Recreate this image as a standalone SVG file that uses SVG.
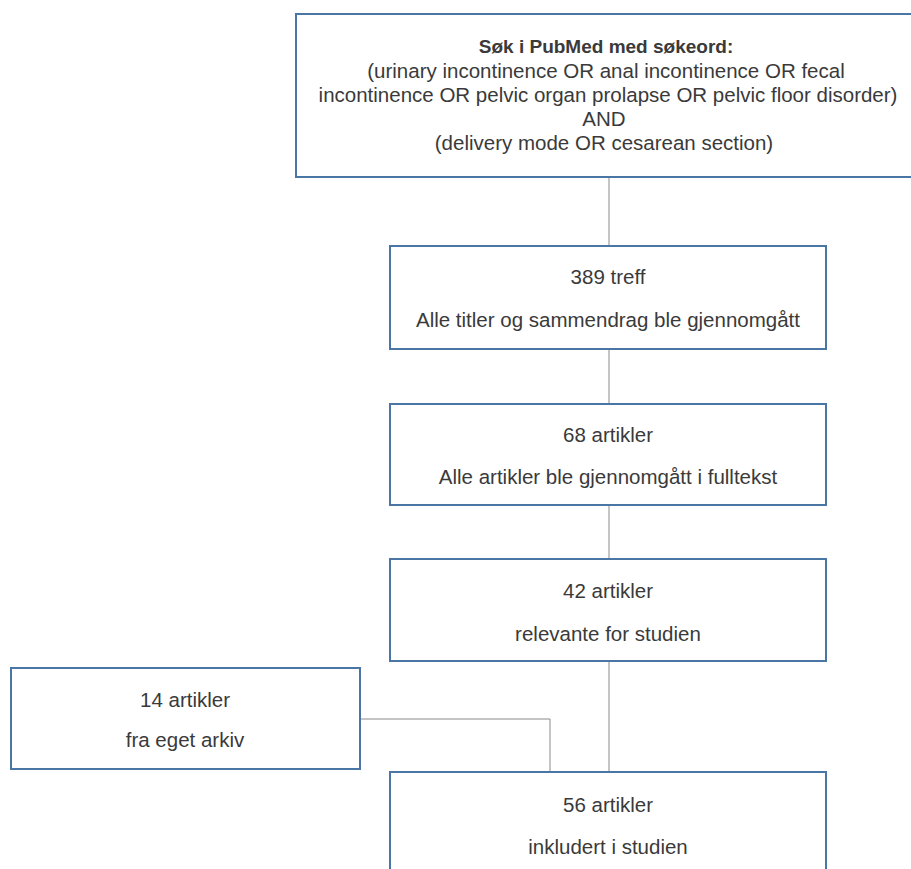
<svg xmlns="http://www.w3.org/2000/svg" width="911" height="869" viewBox="0 0 911 869">
<style>
.box{fill:#fff;stroke:#4a76a6;stroke-width:2}
.t{font-family:"Liberation Sans",Arial,sans-serif;font-size:20.5px;fill:#3a3a3a;text-anchor:middle}
.b{font-weight:bold;font-size:19px}
.c{fill:none;stroke:#8a8a8a;stroke-width:1}
</style>
<rect width="911" height="869" fill="#fff"/>
<g id="connectors">
<line class="c" x1="609" y1="177" x2="609" y2="246"/>
<line class="c" x1="609" y1="349" x2="609" y2="404"/>
<line class="c" x1="609" y1="505" x2="609" y2="559"/>
<line class="c" x1="609" y1="661" x2="609" y2="772"/>
<polyline class="c" points="360,719 550,719 550,772"/>
</g>
<g id="search">
<rect class="box" x="296" y="14" width="620" height="163"/>
<text class="t b" x="606" y="53">Søk i PubMed med søkeord:</text>
<text class="t" x="606" y="78">(urinary incontinence OR anal incontinence OR fecal</text>
<text class="t" x="608" y="102">incontinence OR pelvic organ prolapse OR pelvic floor disorder)</text>
<text class="t" x="604" y="126">AND</text>
<text class="t" x="604" y="150">(delivery mode OR cesarean section)</text>
</g>
<g id="n389">
<rect class="box" x="390" y="246" width="436" height="103"/>
<text class="t" x="608" y="284">389 treff</text>
<text class="t" x="608" y="327">Alle titler og sammendrag ble gjennomgått</text>
</g>
<g id="n68">
<rect class="box" x="390" y="404" width="436" height="101"/>
<text class="t" x="608" y="442">68 artikler</text>
<text class="t" x="608" y="484">Alle artikler ble gjennomgått i fulltekst</text>
</g>
<g id="n42">
<rect class="box" x="390" y="559" width="436" height="102"/>
<text class="t" x="608" y="598">42 artikler</text>
<text class="t" x="608" y="641">relevante for studien</text>
</g>
<g id="n14">
<rect class="box" x="11" y="668" width="349" height="101"/>
<text class="t" x="185" y="707">14 artikler</text>
<text class="t" x="185" y="747">fra eget arkiv</text>
</g>
<g id="n56">
<rect class="box" x="390" y="772" width="436" height="110"/>
<text class="t" x="608" y="812">56 artikler</text>
<text class="t" x="608" y="854">inkludert i studien</text>
</g>
</svg>
